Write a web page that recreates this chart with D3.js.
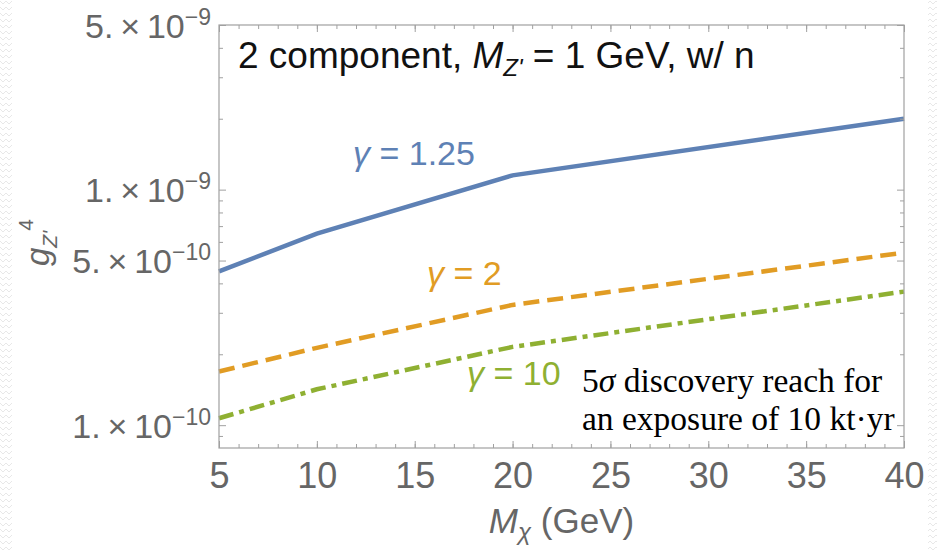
<!DOCTYPE html>
<html>
<head>
<meta charset="utf-8">
<script src="https://cdn.jsdelivr.net/npm/d3@7"></script>
<style>
  body { margin: 0; background: #fff; }
  svg { display: block; font-family: "Liberation Sans", Arial, sans-serif; }
</style>
</head>
<body>
<div id="chart"></div>
<script>
// values
var mass = [5, 10, 20, 40];
var gamma125 = [4.5e-10, 6.5e-10, 1.15e-9, 2.0e-9];
var gamma2 = [1.69e-10, 2.13e-10, 3.24e-10, 5.4e-10];
var gamma10 = [1.07e-10, 1.42e-10, 2.15e-10, 3.69e-10];

var xTicks = [5, 10, 15, 20, 25, 30, 35, 40];
var yTicks = [1e-10, 5e-10, 1e-9, 5e-9];
var yTickMant = ["1.", "5.", "1.", "5."];
var yTickExp = ["\u221210", "\u221210", "\u22129", "\u22129"];
var yMinor = [9e-11, 2e-10, 3e-10, 4e-10, 6e-10, 7e-10, 8e-10, 9e-10, 2e-9, 3e-9, 4e-9];

var width = 937,
    height = 550,
    margin = {top: 25, right: 33, bottom: 102, left: 219};

var x = d3.scaleLinear().domain([5, 40]).range([margin.left, width - margin.right]);
var y = d3.scaleLog().domain([8e-11, 5e-9]).range([height - margin.bottom, margin.top]);

var svg = d3.select("#chart").append("svg")
    .attr("width", width)
    .attr("height", height);

// faint zigzag texture at the slide edges
var defs = svg.append("defs");
var pat = defs.append("pattern")
    .attr("id", "zig")
    .attr("width", 6)
    .attr("height", 6)
    .attr("patternUnits", "userSpaceOnUse");
pat.append("path")
    .attr("d", "M0,1 L3,4 L6,1")
    .attr("fill", "none")
    .attr("stroke", "#e2e2e2")
    .attr("stroke-width", 0.8);
svg.append("rect").attr("x", 0).attr("y", 0).attr("width", 12).attr("height", height).attr("fill", "url(#zig)");
svg.append("rect").attr("x", 928).attr("y", 0).attr("width", 9).attr("height", height).attr("fill", "url(#zig)");

var series = [
  {label: "\u03b3 = 1.25", values: gamma125, color: "#5E81B5", dash: null},
  {label: "\u03b3 = 2", values: gamma2, color: "#E19C24", dash: "16,8"},
  {label: "\u03b3 = 10", values: gamma10, color: "#8FB032", dash: "15,6,5,6"}
];

var line = d3.line()
    .x(function (d) { return x(d[0]); })
    .y(function (d) { return y(d[1]); });

svg.append("g")
    .selectAll("path")
    .data(series)
    .enter()
    .append("path")
    .attr("d", function (s) {
      return line(mass.map(function (m, i) { return [m, s.values[i]]; }));
    })
    .attr("fill", "none")
    .attr("stroke", function (s) { return s.color; })
    .attr("stroke-width", 4.5)
    .attr("stroke-dasharray", function (s) { return s.dash; });

// frame
var frameColor = "#a0a0a0";
svg.append("rect")
    .attr("x", margin.left)
    .attr("y", margin.top)
    .attr("width", width - margin.left - margin.right)
    .attr("height", height - margin.top - margin.bottom)
    .attr("fill", "none")
    .attr("stroke", frameColor)
    .attr("stroke-width", 1.2);

function styleAxis(g) {
  g.select(".domain").remove();
  g.selectAll(".tick line").attr("stroke", frameColor).attr("stroke-width", 1);
  g.selectAll(".tick text").attr("fill", "#666");
}

var xMinor = d3.range(5, 41);

// bottom
svg.append("g")
    .attr("transform", "translate(0," + (height - margin.bottom) + ")")
    .call(d3.axisBottom(x).tickValues(xMinor).tickSize(-4).tickFormat(""))
    .call(styleAxis);
svg.append("g")
    .attr("transform", "translate(0," + (height - margin.bottom) + ")")
    .call(d3.axisBottom(x).tickValues(xTicks).tickSize(-7).tickSizeOuter(0).tickPadding(14))
    .call(styleAxis)
    .selectAll(".tick text")
    .attr("font-size", 36)
    .attr("dy", "0.71em");
// top
svg.append("g")
    .attr("transform", "translate(0," + margin.top + ")")
    .call(d3.axisTop(x).tickValues(xMinor).tickSize(-4).tickFormat(""))
    .call(styleAxis);
svg.append("g")
    .attr("transform", "translate(0," + margin.top + ")")
    .call(d3.axisTop(x).tickValues(xTicks).tickSize(-7).tickFormat(""))
    .call(styleAxis);

// left
svg.append("g")
    .attr("transform", "translate(" + margin.left + ",0)")
    .call(d3.axisLeft(y).tickValues(yMinor).tickSize(-4).tickFormat(""))
    .call(styleAxis);
var yAx = svg.append("g")
    .attr("transform", "translate(" + margin.left + ",0)")
    .call(d3.axisLeft(y).tickValues(yTicks).tickSize(-7).tickPadding(8).tickFormat(""))
    .call(styleAxis);
yAx.selectAll(".tick text")
    .attr("font-size", 34)
    .attr("dy", "0.36em")
    .each(function (d, i) {
      var t = d3.select(this);
      t.append("tspan").text(yTickMant[i] + "\u2009\u00d7\u200910");
      t.append("tspan")
          .attr("font-size", 23)
          .attr("dy", -13)
          .text(yTickExp[i]);
    });
// right
svg.append("g")
    .attr("transform", "translate(" + (width - margin.right) + ",0)")
    .call(d3.axisRight(y).tickValues(yMinor).tickSize(-4).tickFormat(""))
    .call(styleAxis);
svg.append("g")
    .attr("transform", "translate(" + (width - margin.right) + ",0)")
    .call(d3.axisRight(y).tickValues(yTicks).tickSize(-7).tickFormat(""))
    .call(styleAxis);

// axis titles
var xt = svg.append("text")
    .attr("x", (margin.left + width - margin.right) / 2)
    .attr("y", 533)
    .attr("text-anchor", "middle")
    .attr("font-size", 35)
    .attr("fill", "#666");
xt.append("tspan").attr("font-style", "italic").text("M");
xt.append("tspan").attr("font-style", "italic").attr("font-size", 24).attr("dy", 7).text("\u03c7");
xt.append("tspan").attr("dy", -7).text(" (GeV)");

var yt = svg.append("text")
    .attr("transform", "translate(49,266) rotate(-90)")
    .attr("font-size", 33)
    .attr("fill", "#666");
yt.append("tspan").attr("font-style", "italic").text("g");
yt.append("tspan").attr("font-style", "italic").attr("font-size", 21).attr("dy", 8).text("Z'");
yt.append("tspan").attr("font-size", 21).attr("dy", -24).text("4");

// plot title
var title = svg.append("text")
    .attr("x", 238)
    .attr("y", 68)
    .attr("font-size", 37)
    .attr("fill", "#111");
title.append("tspan").text("2 component, ");
title.append("tspan").attr("font-style", "italic").text("M");
title.append("tspan").attr("font-style", "italic").attr("font-size", 24).attr("dy", 8).text("Z'");
title.append("tspan").attr("dy", -8).text(" = 1 GeV, w/ n");

// curve labels
var labelPos = [[353, 165], [427, 285], [467, 385]];
svg.append("g")
    .selectAll("text")
    .data(series)
    .enter()
    .append("text")
    .attr("x", function (d, i) { return labelPos[i][0]; })
    .attr("y", function (d, i) { return labelPos[i][1]; })
    .attr("font-size", 34)
    .attr("fill", function (d) { return d.color; })
    .each(function (d) {
      var t = d3.select(this);
      t.append("tspan").attr("font-style", "italic").text(d.label.charAt(0));
      t.append("tspan").text(d.label.slice(1));
    });

// note
var note = svg.append("text")
    .attr("font-family", "'Liberation Serif', 'Times New Roman', serif")
    .attr("font-size", 33.5)
    .attr("fill", "#000");
var l1 = note.append("tspan").attr("x", 582).attr("y", 392);
l1.append("tspan").text("5");
l1.append("tspan").attr("font-style", "italic").text("\u03c3");
l1.append("tspan").text(" discovery reach for");
note.append("tspan").attr("x", 582).attr("y", 430).text("an exposure of 10 kt\u00b7yr");
</script>
</body>
</html>
